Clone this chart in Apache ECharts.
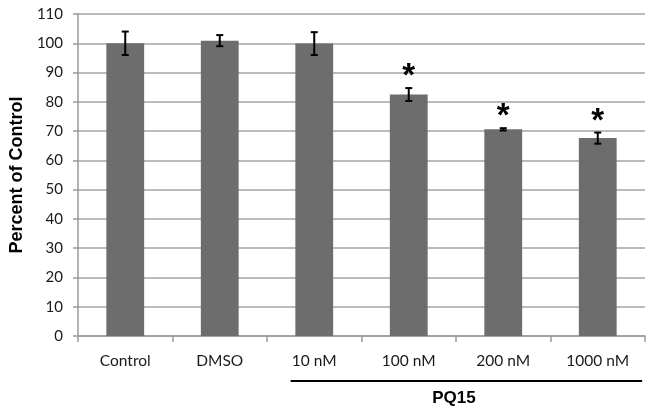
<!DOCTYPE html>
<html><head><meta charset="utf-8">
<script src="https://cdn.jsdelivr.net/npm/echarts@6/dist/echarts.min.js"></script>
<style>html,body{margin:0;padding:0;background:#fff}#c{width:652px;height:414px}</style>
</head><body><div id="c"></div>
<script>
const categories = ['Control', 'DMSO', '10 nM', '100 nM', '200 nM', '1000 nM'];
const means = [100, 100.9, 99.9, 82.5, 70.6, 67.6];
const errors = [4.0, 1.9, 3.9, 2.2, 0.4, 1.9];
const significant = [false, false, false, true, true, true];
const yTicks = [0, 10, 20, 30, 40, 50, 60, 70, 80, 90, 100, 110];
const groupLabel = 'PQ15';
const groupStart = 2;

const chart = echarts.init(document.getElementById('c'));
const errData = means.map((m, i) => [i, m - errors[i], m + errors[i], significant[i] ? 1 : 0]);

chart.setOption({
  animation: false,
  grid: { left: 73, right: 7, top: 14, bottom: 78 },
  xAxis: {
    type: 'category', data: categories,
    axisLine: { lineStyle: { color: '#9a9a9a', width: 1.5 } },
    axisTick: { show: true, length: 6, lineStyle: { color: '#9a9a9a', width: 1.5 } },
    axisLabel: { color: '#1a1a1a', fontFamily: 'Lato', fontSize: 15.5, margin: 17 }
  },
  yAxis: {
    type: 'value', min: yTicks[0], max: yTicks[yTicks.length - 1], interval: 10,
    name: 'Percent of Control', nameLocation: 'middle', nameGap: 47,
    nameTextStyle: { fontFamily: 'Liberation Sans', fontWeight: 'bold', fontSize: 18, color: '#000' },
    axisLine: { show: true, lineStyle: { color: '#9a9a9a', width: 1.5 } },
    axisTick: { show: true, length: 5, lineStyle: { color: '#9a9a9a', width: 1.5 } },
    axisLabel: { color: '#1a1a1a', fontFamily: 'Lato', fontSize: 15, margin: 15 },
    splitLine: { lineStyle: { color: '#a4a4a4', width: 1.5 } }
  },
  series: [
    { type: 'bar', data: means, barWidth: '40%', itemStyle: { color: '#6d6d6d' } },
    {
      type: 'custom', data: errData, z: 10,
      renderItem: function (params, api) {
        const x = api.value(0);
        const lo = api.coord([x, api.value(1)]);
        const hi = api.coord([x, api.value(2)]);
        const cw = 3.5;
        const st = { stroke: '#000', lineWidth: 2 };
        const children = [
          { type: 'line', shape: { x1: lo[0], y1: lo[1], x2: hi[0], y2: hi[1] }, style: st },
          { type: 'line', shape: { x1: lo[0] - cw, y1: lo[1], x2: lo[0] + cw, y2: lo[1] }, style: st },
          { type: 'line', shape: { x1: hi[0] - cw, y1: hi[1], x2: hi[0] + cw, y2: hi[1] }, style: st }
        ];
        if (api.value(3)) {
          children.push({ type: 'text', style: { text: '*', x: hi[0], y: hi[1] - 11, align: 'center', verticalAlign: 'middle', fontSize: 33, fontWeight: 'bold', fontFamily: 'Liberation Sans', fill: '#000' } });
        }
        return { type: 'group', children: children };
      }
    }
  ]
});

const c2 = chart.convertToPixel({ xAxisIndex: 0 }, groupStart);
const c3 = chart.convertToPixel({ xAxisIndex: 0 }, groupStart + 1);
const band = c3 - c2;
const cLast = chart.convertToPixel({ xAxisIndex: 0 }, categories.length - 1);
const x0 = c2 - band * 0.25;
const x1 = cLast + band * 0.47;
const axisY = chart.convertToPixel({ yAxisIndex: 0 }, 0);
chart.setOption({
  graphic: [
    { type: 'line', shape: { x1: x0, y1: axisY + 45, x2: x1, y2: axisY + 45 }, style: { stroke: '#000', lineWidth: 2 } },
    { type: 'text', style: { text: groupLabel, x: c3 + band / 2 - 2, y: axisY + 62, align: 'center', verticalAlign: 'middle', fontFamily: 'Liberation Sans', fontWeight: 'bold', fontSize: 17, fill: '#000' } }
  ]
});
</script></body></html>
